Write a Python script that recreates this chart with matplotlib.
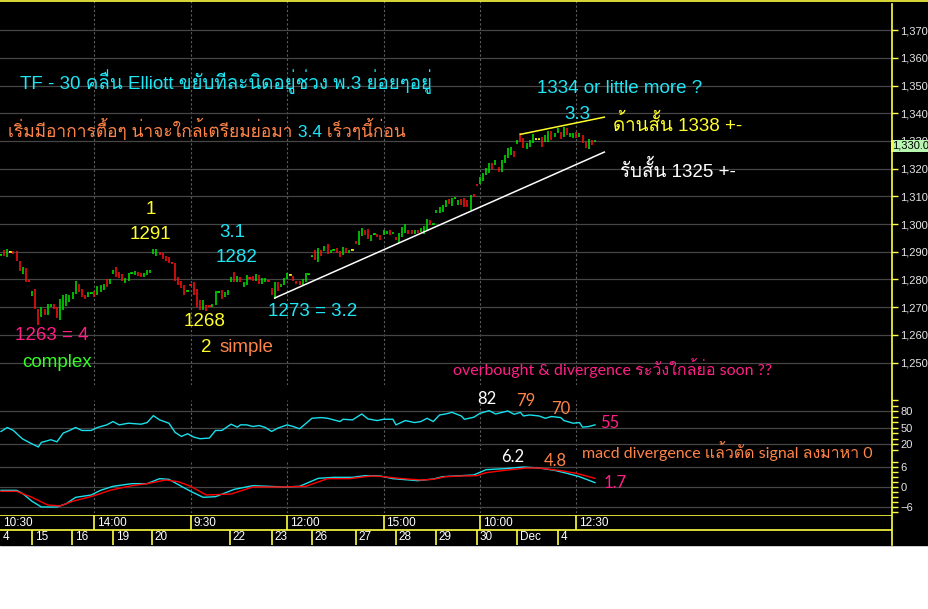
import numpy as np
import matplotlib
matplotlib.use('Agg')
import matplotlib.pyplot as plt
from matplotlib import font_manager
from matplotlib.lines import Line2D
from matplotlib.patches import Rectangle
from matplotlib.ticker import FuncFormatter, MultipleLocator
from fontTools.ttLib import TTFont

# ---- values (TF 30 min bars) ----
highs = [1289.2, 1290.7, 1291, 1290.1, 1290.4, 1290.4, 1286.8, 1284.6, 1284, 1279.6,
         1275.7, 1276.7, 1269.5, 1270, 1269.5, 1271, 1271, 1271, 1270, 1273,
         1274.3, 1274.6, 1274.3, 1275.5, 1279.6, 1278.2, 1276.4, 1274.5, 1275.5, 1275.2,
         1276, 1277.5, 1277.9, 1278.5, 1280, 1280, 1283.6, 1284.6, 1282.6, 1281.8,
         1280.5, 1282.3, 1282.5, 1283, 1282.6, 1282.3, 1282.5, 1283.6, 1283.6,
         1291, 1291, 1290, 1289.5, 1288.6, 1288, 1286.2, 1286, 1280.8, 1279.6,
         1277.9, 1276.3, 1278.2, 1279, 1276.7, 1272.5, 1272.5, 1270.7, 1270.6, 1271,
         1275.7, 1275.7, 1276.3, 1275.5, 1276.3, 1280.8, 1282.6, 1281.4, 1280.8, 1279,
         1281.7, 1280.8, 1281.2, 1282, 1281.7, 1280.6, 1280.5, 1279.8, 1276.9, 1279,
         1279, 1278.5, 1280.6, 1282.3, 1281.9, 1281.2, 1279.6, 1279.3, 1280.2, 1282.3,
         1282.1, 1288.6, 1290.8, 1291.2, 1290.6, 1292, 1292.8, 1290.8, 1291, 1291.2,
         1290.4, 1291.6, 1291.2, 1290.8, 1291, 1293.8, 1297.4, 1298.6, 1298, 1298.4,
         1296, 1296.5, 1296.4, 1296, 1297.8, 1297.6, 1298, 1297.2, 1295.4, 1296.6,
         1299, 1300, 1298, 1298, 1298, 1298, 1298.7, 1299.3, 1302, 1301.6,
         1300.2,
         1305, 1306, 1306.9, 1308.7, 1309, 1309.5, 1309.5, 1308.7, 1309, 1309.5,
         1308.8, 1310.5, 1310.8, 1314.5, 1316.9, 1318.6, 1320.1, 1322, 1322.2, 1323.1,
         1320.7, 1323.1, 1325, 1327.3, 1328, 1326.4, 1330.4, 1332.8, 1331, 1329.4,
         1330.4, 1332.4, 1330.8, 1330.8, 1331.6, 1332.2, 1333.7, 1333.7, 1333, 1334.6,
         1333.3, 1335, 1334.6, 1333, 1333, 1333.4, 1332.8, 1332.2, 1329.8, 1330.6,
         1330.4, 1330.2]
lows = [1288.8, 1288.6, 1288, 1289.9, 1289.2, 1286.5, 1283, 1282, 1279, 1279,
        1274, 1269.5, 1263.6, 1266.5, 1267, 1267, 1270, 1269.5, 1266, 1265.4,
        1269, 1270.6, 1272, 1273, 1274.9, 1275.5, 1273.7, 1273, 1273.7, 1274.8,
        1273.7, 1274.3, 1275.5, 1276.3, 1277.3, 1278.5, 1282, 1281, 1280.5, 1279.6,
        1278.7, 1279.6, 1282.1, 1281.5, 1281.2, 1280.8, 1280.8, 1281.7, 1282.4,
        1289.2, 1288.3, 1289, 1287.4, 1286.5, 1285.8, 1285.8, 1279.6, 1277.9, 1277,
        1274.3, 1275.7, 1277.8, 1274.3, 1270, 1268.8, 1268.8, 1268.7, 1270.2, 1270,
        1270.7, 1275.2, 1273, 1273.7, 1274.3, 1279, 1279, 1279, 1279, 1277.3,
        1278, 1280.2, 1279.6, 1279.6, 1278.2, 1278.5, 1279, 1279.4, 1274.5, 1273.1,
        1275.7, 1277.3, 1277.9, 1280.2, 1281.5, 1279.6, 1278.5, 1277.9, 1277.9, 1279,
        1281.7, 1288.2, 1287, 1286.4, 1288.4, 1290.4, 1289.2, 1289.6, 1290.6, 1289.4,
        1288.2, 1288.8, 1289.6, 1289.6, 1290.6, 1292.8, 1292.4, 1295.7, 1296, 1294.5,
        1294, 1296.1, 1295.5, 1294.4, 1296, 1296.3, 1296, 1296.3, 1294.2, 1293,
        1295.2, 1296.6, 1296.3, 1296.3, 1296.3, 1296.6, 1297.2, 1296.3, 1297.8, 1299.6,
        1299.8,
        1303.9, 1304, 1304.5, 1306, 1307.2, 1306.5, 1309.1, 1306.9, 1306.9, 1306.3,
        1306.3, 1305, 1309.6, 1313.7, 1314.3, 1315.7, 1317.7, 1318.3, 1319.8, 1321.3,
        1318.9, 1318.9, 1322, 1323.7, 1325, 1324.1, 1329, 1329.8, 1327.3, 1327.1,
        1328, 1329.4, 1330.4, 1330.4, 1327.7, 1329.8, 1329.8, 1330.4, 1331.3, 1332.8,
        1330.6, 1331.6, 1332.2, 1331.3, 1330.9, 1330.9, 1331.6, 1329.2, 1327.3, 1327,
        1328.6, 1329.6]
# g = up bar, r = down bar, y = doji
bar_dir = ("grgyrrrgrr" "grrgrggrrg" "gggggrrrgg" "rgggrggrrr" "ggggrrggg"
           "ggrrrrrrrr" "rgrrrrgrrg" "ggrgggrgrg" "grrgrggrrg" "rgggyrrrgg"
           "ggrgrgrggr" "rgrgyrggrr" "ggrrggrgrg" "ggrrgrgggr" "g"
           "ggggrgggrr" "rgrrggggrg" "rggggrgrrg" "ggyyrggrgg" "rgrggrgrrg" "rg")

rsi_x = [0, 2, 4, 6, 7, 9, 12, 13, 15, 16, 18, 20, 22, 24, 26, 29, 31, 34, 36, 38,
         41, 45, 47, 49, 51, 54, 56, 58, 60, 62, 64, 67, 69, 71, 74, 76, 77, 79, 81, 83,
         85, 87, 89, 92, 94, 96, 100, 103, 105, 109, 110, 113, 116, 118, 121, 123, 126, 127, 130, 133,
         135, 137, 139, 141, 143, 145, 148, 149, 152, 154, 157, 159, 163, 165, 167, 168, 170, 173, 175, 177,
         180, 181, 184, 186, 187, 189, 191]
rsi_y = [42.8, 50, 44.6, 33.8, 29, 23, 14.6, 23, 26, 27.8, 24, 39.8, 44.6, 50, 44.6, 44.6, 50, 54.8, 60.8, 54.8,
         57.8, 56, 59, 71.6, 63.8, 57.8, 41, 33.8, 38.6, 32.6, 29.6, 30.8, 44.6, 44.6, 56, 50.6, 54.8, 54.8, 51.8, 53.6,
         50, 42.8, 48.8, 54.8, 51.8, 47.6, 66.8, 68, 66.8, 60.8, 65, 63.8, 74.6, 65.6, 62.6, 65, 65, 54.8, 62.6, 59,
         60.8, 66.8, 60.8, 72.8, 74.6, 77.6, 71, 65, 68.6, 75.8, 80.6, 74.6, 80, 74, 77.6, 71, 72.8, 71, 66.8, 70,
         68, 62.6, 57.8, 59, 50.6, 51.8, 54.8]

macd_x = [0, 5, 7, 10, 13, 18, 21, 24, 29, 32, 36, 42, 47, 51, 54, 58, 61, 65, 69, 75,
          81, 86, 91, 96, 102, 107, 113, 117, 122, 126, 134, 139, 142, 148, 152, 156, 162, 168, 173, 178,
          182, 186, 191]
macd_y = [-1, -1, -2, -4.3, -6, -6, -5, -3.1, -2.4, -1, 0.2, 1, 1, 2.5, 2.3, 0.2, -1.3, -3.1, -2.9, -0.7,
          0.4, 0.2, 0, 0.2, 2.6, 2.9, 2.9, 3.4, 3.3, 2.5, 1.9, 2.4, 3.1, 3.4, 3.6, 5.2, 5.5, 6.0, 5.7, 5.0,
          4.1, 3.1, 1.3]
sig_x = [0, 5, 10, 15, 19, 23, 30, 35, 42, 47, 53, 57, 61, 66, 74, 81, 90, 98, 105, 112,
         119, 123, 128, 135, 139, 143, 148, 153, 156, 162, 169, 173, 180, 185, 191]
sig_y = [-1.3, -1.3, -3.1, -5.4, -5.7, -4.3, -2.6, -1, 0.4, 1, 2.1, 1.6, 0.2, -2.4, -2.1, 0, 0, 0.2, 2.5, 2.5,
         3.3, 3.1, 2.6, 2.1, 2.3, 3.1, 3.3, 3.4, 4.3, 5.0, 5.7, 5.7, 4.9, 4.1, 2.6]

support_line = ([88, 194], [1273.3, 1326.0])
resist_line = ([167, 194], [1332.4, 1338.6])

price_ticks = list(range(1250, 1371, 10))
last_price = 1330.0
time_ticks = [30, 61, 92, 123, 154, 185]
time_labels = ['14:00', '9:30', '12:00', '15:00', '10:00', '12:30']
day_ticks = [10, 22.8, 36, 48.5, 73.6, 87.1, 100, 114.1, 127, 139.9, 153.1, 166, 179.1]
day_labels = ['15', '16', '19', '20', '22', '23', '26', '27', '28', '29', '30', 'Dec', '4']

# ---- colours ----
GRID = '#464646'
VDASH = '#5e5e5e'
AXY = '#ffff40'
CYAN = '#1ee6f5'
YEL = '#ffff2a'
CORAL = '#ff8448'
PINK = '#ff1f86'
LIME = '#33ff22'
BARG = '#00e800'
BARR = '#ff1010'


def thai_family():
    # first installed font that actually has Thai glyphs
    for f in font_manager.fontManager.ttflist:
        try:
            cmap = TTFont(f.fname, fontNumber=0, lazy=True).getBestCmap()
        except Exception:
            continue
        if cmap and 0x0E04 in cmap and 0x0E35 in cmap:
            return f.name
    return 'DejaVu Sans'


THAI = thai_family()
MAIN = ['Liberation Sans', THAI, 'DejaVu Sans']
THIN = ['Lato', THAI, 'DejaVu Sans']
plt.rcParams['font.family'] = MAIN

W, H = 929, 609


def rect(x0, y0, x1, y1):
    return [x0 / W, 1 - y1 / H, (x1 - x0) / W, (y1 - y0) / H]


fig = plt.figure(figsize=(W / 100, H / 100), dpi=100, facecolor='white')
fig.add_artist(Rectangle((0, 1 - 545 / H), 1, 545 / H, transform=fig.transFigure,
                         color='black', zorder=0))

ax = fig.add_axes(rect(0, 0, 892, 385))
ax_rsi = fig.add_axes(rect(0, 400, 892, 450))
ax_macd = fig.add_axes(rect(0, 462, 892, 513))
ax_t = fig.add_axes(rect(0, 515, 892, 545))
x_lo, x_hi = -0.32, 286.5

for a in (ax, ax_rsi, ax_macd):
    a.set_facecolor('none')
    a.set_xlim(x_lo, x_hi)
    for s in a.spines.values():
        s.set_visible(False)
    a.tick_params(axis='x', bottom=False, labelbottom=False)
    a.yaxis.tick_right()
    a.tick_params(axis='y', which='both', direction='out', length=4, width=1, color=AXY,
                  labelcolor='#e6e6e6', labelsize=8, pad=2)
    a.grid(axis='y', color=GRID, lw=0.9)
    a.set_axisbelow(True)
    for t in time_ticks:
        a.axvline(t, color=VDASH, lw=0.8, ls=(0, (2, 2)), zorder=0.5)

# price panel
ax.set_ylim(1241.9, 1380.9)
ax.set_yticks(price_ticks)
ax.yaxis.set_major_formatter(FuncFormatter(lambda v, p: f'{v:,.0f}'))
xs = np.arange(len(highs))
cmap = {'g': BARG, 'r': BARR, 'y': YEL}
cols = [cmap[c] for c in bar_dir]
ax.vlines(xs, lows, highs, colors=cols, lw=1.1)
flat = [i for i in xs if highs[i] - lows[i] < 0.6]
ax.hlines([(highs[i] + lows[i]) / 2 for i in flat], [i - 0.45 for i in flat],
          [i + 0.45 for i in flat], colors=[cols[i] for i in flat], lw=1.1)
ax.plot(*support_line, color='white', lw=1.1)
ax.plot(*resist_line, color=YEL, lw=1.1)
ax.text(1.0, last_price, '1,330.0', transform=ax.get_yaxis_transform(), ha='left', va='top',
        fontsize=8, color='black',
        bbox=dict(boxstyle='square,pad=0.12', fc='#b8f5b0', ec='none'))

# RSI panel
ax_rsi.set_ylim(9.1, 100)
ax_rsi.set_yticks([20, 50, 80])
ax_rsi.yaxis.set_minor_locator(MultipleLocator(10))
ax_rsi.plot(rsi_x, rsi_y, color='#19e0ec', lw=1.0)

# MACD panel
ax_macd.set_ylim(-7.8, 7.5)
ax_macd.set_yticks([-6, 0, 6])
ax_macd.yaxis.set_minor_locator(MultipleLocator(1.5))
ax_macd.plot(macd_x, macd_y, color='#19e0ec', lw=1.0)
ax_macd.plot(sig_x, sig_y, color='#ff0000', lw=1.0)

# time axis rows
ax_t.set_facecolor('none')
ax_t.set_xlim(x_lo, x_hi)
ax_t.set_ylim(0, 2)
ax_t.axis('off')
ax_t.axhline(2, color=AXY, lw=1.2)
ax_t.axhline(1, color=AXY, lw=1.2)
ax_t.vlines(time_ticks, 1, 2, color=AXY, lw=1.2)
ax_t.vlines(day_ticks, 0, 1, color=AXY, lw=1.2)
for x, s in zip([x_lo] + time_ticks, ['10:30'] + time_labels):
    ax_t.annotate(s, (x, 1.5), xytext=(2, 0), textcoords='offset points', va='center',
                  color='white', fontsize=8.5)
for x, s in zip([x_lo] + day_ticks, ['4'] + day_labels):
    ax_t.annotate(s, (x, 0.5), xytext=(2, 0), textcoords='offset points', va='center',
                  color='white', fontsize=8.5)

# frame lines of the chart window
fig.add_artist(Line2D([0, 1], [1 - 0.8 / H, 1 - 0.8 / H], color=AXY, lw=1.2,
                      transform=fig.transFigure))
fig.add_artist(Line2D([892.5 / W, 892.5 / W], [1 - 4 / H, 1 - 545 / H], color=AXY, lw=1.2,
                      transform=fig.transFigure))


# ---- annotations ----
def note(a, x, y, s, color, size=13.5, ha='left', thin=False):
    return a.text(x, y, s, color=color, fontsize=size, ha=ha, va='center',
                  family=THIN if thin else MAIN)


note(ax, 6.1, 1351.3, 'TF - 30 คลื่น Elliott ขยับทีละนิดอยู่ช่วง พ.3 ย่อยๆอยู่', CYAN)
t1 = note(ax, 2.3, 1334.3, 'เริ่มมีอาการตื้อๆ น่าจะใกล้เตรียมย่อมา', CORAL, size=12.5)
t2 = ax.annotate(' 3.4', xy=(1, 0), xycoords=t1, va='bottom', color=CYAN, fontsize=12.5)
ax.annotate(' เร็วๆนี้ก่อน', xy=(1, 0), xycoords=t2, va='bottom', color=CORAL, fontsize=12.5)
note(ax, 172.3, 1348.8, '1334 or little more ?', CYAN)
note(ax, 181, 1339.7, '3.3', CYAN)
note(ax, 196.8, 1335.8, 'ด้านสั้น 1338 +-', YEL)
note(ax, 199, 1319.2, 'รับสั้น 1325 +-', 'white')
note(ax, 48.2, 1305.1, '1', YEL, ha='center')
note(ax, 47.9, 1296.4, '1291', YEL, ha='center')
note(ax, 74.3, 1296.8, '3.1', CYAN, ha='center')
note(ax, 75.6, 1287.8, '1282', CYAN, ha='center')
note(ax, 85.9, 1268.6, '1273 = 3.2', CYAN)
note(ax, 65.6, 1264.7, '1268', YEL, ha='center')
note(ax, 64.3, 1255.3, '2', YEL)
note(ax, 70.4, 1255.3, 'simple', CORAL)
note(ax, 4.5, 1259.6, '1263 = 4', PINK)
note(ax, 6.8, 1249.9, 'complex', LIME)
note(ax, 145.3, 1248.1, 'overbought & divergence ระวังใกล้ย่อ soon ??', PINK, size=11.5, thin=True)

note(ax_rsi, 153, 101.8, '82', 'white', size=12, thin=True)
note(ax_rsi, 165.6, 98.2, '79', CORAL, size=12, thin=True)
note(ax_rsi, 176.8, 83.6, '70', CORAL, size=12, thin=True)
note(ax_rsi, 192.6, 58.2, '55', PINK, size=12, thin=True)
note(ax_rsi, 186.8, 7.3, 'macd divergence แล้วตัด signal ลงมาหา 0', CORAL, size=11.5, thin=True)
note(ax_macd, 160.8, 9.0, '6.2', 'white', size=12, thin=True)
note(ax_macd, 174.6, 7.8, '4.8', CORAL, size=12, thin=True)
note(ax_macd, 193.9, 1.2, '1.7', PINK, size=12, thin=True)

fig.savefig('out.png', dpi=100, facecolor=fig.get_facecolor())
